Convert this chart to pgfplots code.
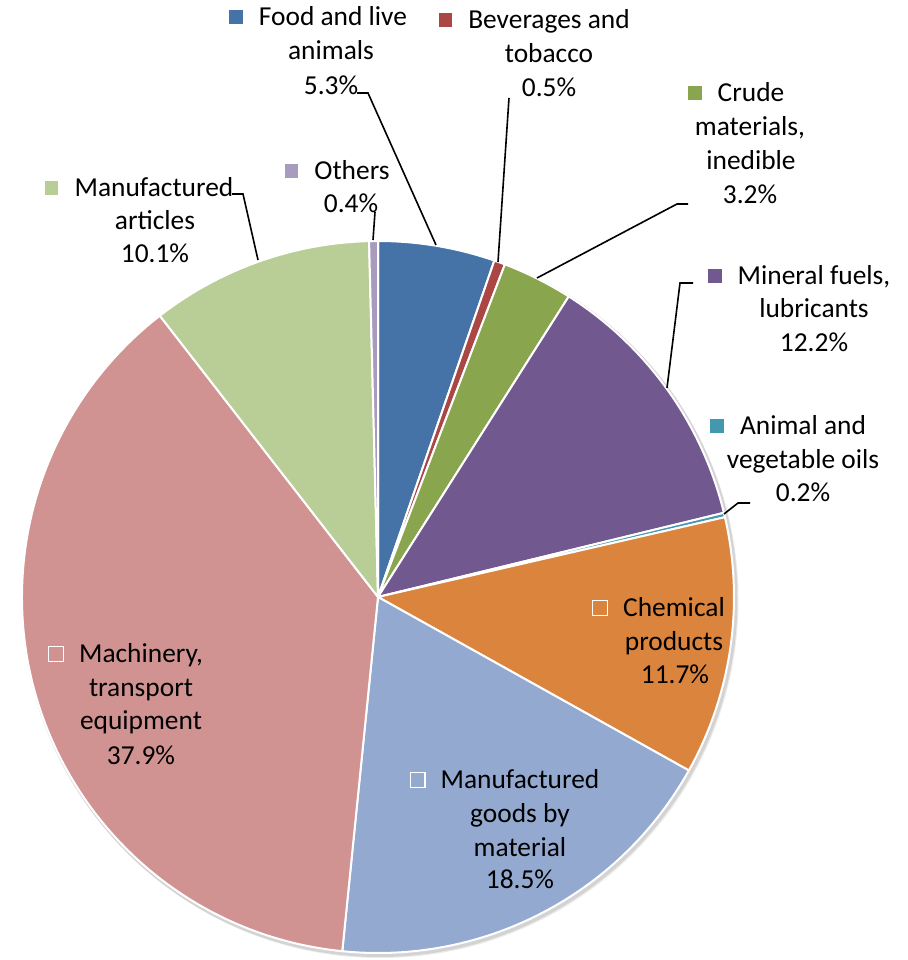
\documentclass[border=0pt]{standalone}
\usepackage{pgfplots}
\pgfplotsset{compat=1.18}
\usepackage{pgfplotstable}
\usepackage{fontspec}
\setmainfont{Carlito}

\definecolor{cFood}{HTML}{4572A7}
\definecolor{cBev}{HTML}{AA4643}
\definecolor{cCrude}{HTML}{89A54E}
\definecolor{cMin}{HTML}{71588F}
\definecolor{cAni}{HTML}{4198AF}
\definecolor{cChem}{HTML}{DB843D}
\definecolor{cGoods}{HTML}{93A9CF}
\definecolor{cMach}{HTML}{D19392}
\definecolor{cArt}{HTML}{B9CD96}
\definecolor{cOth}{HTML}{A99BBD}

% shares in percent, clockwise from the top
\pgfplotstableread{
share col
5.3  cFood
0.5  cBev
3.2  cCrude
12.2 cMin
0.2  cAni
11.7 cChem
18.5 cGoods
37.9 cMach
10.1 cArt
0.4  cOth
}\piedata

\newcommand\lf{\fontsize{13.7}{17}\selectfont}
\setlength\fboxsep{0pt}
\setlength\fboxrule{0.6pt}
\newcommand\sq[2]{\makebox[0pt][r]{\raisebox{1pt}{\fcolorbox{#2}{#1}{\rule{0pt}{6.8pt}\rule{6.8pt}{0pt}}}\hspace{7.5pt}}}
\newcommand\lab[3]{\node[anchor=base,font=\lf,inner sep=0pt] at (axis cs:#1,{960-#2}) {#3};}

\begin{document}
\begin{tikzpicture}
\begin{axis}[
    x=0.5pt, y=0.5pt,
    xmin=0, xmax=907, ymin=0, ymax=960,
    hide axis, clip=false,
    anchor=south west, at={(0,0)}
]
% soft shadow
\fill[black,opacity=0.10] (axis cs:379.5,361) circle[radius=179pt];
\fill[black,opacity=0.08] (axis cs:380.5,360) circle[radius=179pt];

\def\cum{0}
\pgfplotsforeachungrouped \i in {0,...,9}{
  \pgfplotstablegetelem{\i}{share}\of\piedata \let\v=\pgfplotsretval
  \pgfplotstablegetelem{\i}{col}\of\piedata \let\c=\pgfplotsretval
  \pgfmathsetmacro\astart{90-3.6*\cum}
  \pgfmathsetmacro\cum{\cum+\v}
  \pgfmathsetmacro\aend{90-3.6*\cum}
  \edef\temp{\noexpand\fill[\c, draw=white, line width=1pt, line join=round]
    (axis cs:378,363) -- ++(\astart:178pt) arc[start angle=\astart, end angle=\aend, radius=178pt] -- cycle;}
  \temp
}

% leader lines
\tikzset{lead/.style={black, line width=0.8pt}}
\draw[lead] (axis cs:357,{960-93}) -- (axis cs:368,{960-93}) -- (axis cs:436,{960-245});
\draw[lead] (axis cs:509,{960-98}) -- (axis cs:498,{960-262});
\draw[lead] (axis cs:688,{960-204}) -- (axis cs:677,{960-204}) -- (axis cs:537,{960-278});
\draw[lead] (axis cs:693,{960-283}) -- (axis cs:680,{960-283}) -- (axis cs:667,{960-388});
\draw[lead] (axis cs:750,{960-503}) -- (axis cs:738,{960-503}) -- (axis cs:724,{960-514});
\draw[lead] (axis cs:232,{960-194}) -- (axis cs:243,{960-194}) -- (axis cs:258,{960-260});
\draw[lead] (axis cs:375,{960-212}) -- (axis cs:373,{960-240});

% labels
\lab{333}{26}{\sq{cFood}{white}Food and live}
\lab{331}{60}{animals}
\lab{331}{95}{5.3\%}

\lab{549}{29}{\sq{cBev}{white}Beverages and}
\lab{549}{63}{tobacco}
\lab{549}{97}{0.5\%}

\lab{751}{102}{\sq{cCrude}{white}Crude}
\lab{750}{136}{materials,}
\lab{751}{170}{inedible}
\lab{750}{204}{3.2\%}

\lab{814}{285}{\sq{cMin}{white}Mineral fuels,}
\lab{814}{318}{lubricants}
\lab{814}{352}{12.2\%}

\lab{803}{435}{\sq{cAni}{white}Animal and}
\lab{803}{469}{vegetable oils}
\lab{803}{502}{0.2\%}

\lab{674}{617}{\sq{cChem}{white}Chemical}
\lab{674}{651}{products}
\lab{675}{684}{11.7\%}

\lab{520}{789}{\sq{cGoods}{white}Manufactured}
\lab{520}{823}{goods by}
\lab{520}{856}{material}
\lab{520}{889}{18.5\%}

\lab{141}{663}{\sq{cMach}{white}Machinery,}
\lab{141}{697}{transport}
\lab{141}{730}{equipment}
\lab{141}{765}{37.9\%}

\lab{154}{197}{\sq{cArt}{white}Manufactured}
\lab{155}{230}{articles}
\lab{155}{263}{10.1\%}

\lab{352}{180}{\sq{cOth}{white}Others}
\lab{351}{213}{0.4\%}
\end{axis}
\pgfresetboundingbox
\useasboundingbox (0,0) rectangle (453.5pt,480pt);
\end{tikzpicture}
\end{document}
